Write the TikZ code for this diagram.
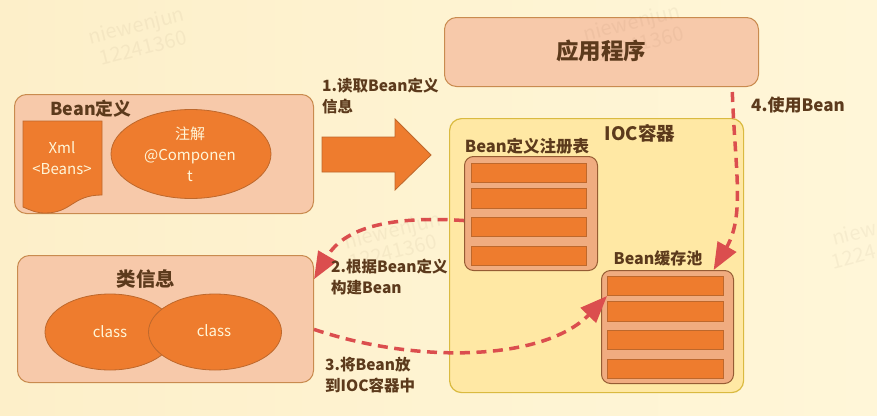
\documentclass[tikz,border=0pt]{standalone}
\usepackage[RGB]{xcolor}
\usepackage{fontspec}
\setmainfont{Noto Sans CJK SC}
\usetikzlibrary{arrows.meta,shapes.geometric}
\definecolor{PageL}{RGB}{253,239,201}
\definecolor{PageR}{RGB}{255,246,216}
\definecolor{BoxFill}{RGB}{247,201,170}
\definecolor{BoxLine}{RGB}{201,139,79}
\definecolor{Org}{RGB}{238,124,46}
\definecolor{OrgLine}{RGB}{190,104,44}
\definecolor{Ioc}{RGB}{255,232,164}
\definecolor{IocLine}{RGB}{218,186,64}
\definecolor{Stack}{RGB}{240,172,128}
\definecolor{StackLine}{RGB}{150,92,52}
\definecolor{Ink}{RGB}{92,58,28}
\definecolor{Dash}{RGB}{219,78,78}
\tikzset{
  panelbox/.style={draw=BoxLine,fill=BoxFill,line width=1pt,rounded corners=12pt,inner sep=0pt},
  orangeshape/.style={draw=OrgLine,fill=Org,line width=.8pt},
  barbox/.style={draw=OrgLine,fill=Org,line width=1pt,inner sep=0pt},
  stackbox/.style={draw=StackLine,fill=Stack,line width=1pt,rounded corners=9pt,inner sep=0pt},
  inktext/.style={text=Ink,font=\bfseries\fontsize{15.5}{20.5}\selectfont,inner sep=0pt},
  steptext/.style={inktext,align=left,anchor=north west},
  whitetext/.style={text=PageR,font=\fontsize{15}{21}\selectfont,align=center,inner sep=0pt},
  dasharrow/.style={draw=Dash,line width=3.5pt,dash pattern=on 10pt off 6.5pt,-{Triangle[length=27pt,width=21pt]}},
  marktext/.style={text=Ink,text opacity=.05,font=\fontsize{20}{24}\selectfont,rotate=14,inner sep=0pt}
}
\newcommand{\drawbars}[3]{
    \foreach \i/\y/\h in {1/0/19,2/25/20,3/54/19,4/83/19}{
      \node[barbox,anchor=north west,minimum width=#2 pt,minimum height=\h pt] (#1\i) at (#3) [yshift=-\y pt] {};
    }
}
\begin{document}
\begin{tikzpicture}[x=1pt,y=-1pt]
\useasboundingbox (0,0) rectangle (877,415);
\fill[left color=PageL,right color=PageR] (0,0) rectangle (877,415);
\node[panelbox,anchor=north west,minimum width=314pt,minimum height=69pt] (app) at (444,17) {};
\node[inktext,font=\bfseries\fontsize{22.5}{26}\selectfont] (apptitle) at (601,51) {应用程序};
\node[panelbox,anchor=north west,minimum width=299pt,minimum height=119pt] (beandef) at (14,94) {};
\node[inktext,font=\bfseries\fontsize{17.8}{22}\selectfont] (beandeftitle) at (91,109) {Bean定义};
\draw[orangeshape] (23,121)--++(79,0)--++(0,74) .. controls (72,195) and (72,213) .. (45,213) .. controls (36,213) and (30,210) .. (23,207)--cycle;
\node[whitetext] (xmltext) at (62,158) {Xml\\<Beans>};
\node[ellipse,orangeshape,minimum width=160pt,minimum height=89pt,inner sep=0pt] (annot) at (191,154) {};
\node[whitetext] (annottext) at (190,154) {注解\\@Componen\\t};
\draw[orangeshape] (322,137)--++(73,0)--++(0,-18)--++(36,36)--++(-36,35)--++(0,-18)--++(-73,0)--cycle;
\node[steptext] (readlabel) at (322,78) {1.读取Bean定义\\信息};
\node[panelbox,anchor=north west,minimum width=296pt,minimum height=127pt] (classbox) at (17,255) {};
\node[inktext,font=\bfseries\fontsize{19.5}{23}\selectfont] (classtitle) at (146,279) {类信息};
\node[ellipse,orangeshape,minimum width=130pt,minimum height=76pt,inner sep=0pt] (classa) at (110,332) {};
\node[ellipse,orangeshape,minimum width=133pt,minimum height=76pt,inner sep=0pt] (classb) at (215,332) {};
\node[whitetext] (classatext) at (110,332) {class};
\node[whitetext] (classbtext) at (214,331) {class};
\node[draw=IocLine,fill=Ioc,line width=1.2pt,rounded corners=12pt,anchor=north west,minimum width=294pt,minimum height=274pt,inner sep=0pt] (ioc) at (449,118) {};
\node[inktext,font=\bfseries\fontsize{18.5}{22}\selectfont] (ioctitle) at (640,133) {IOC容器};
\node[inktext,font=\bfseries\fontsize{16.5}{20}\selectfont] (regtitle) at (527,146) {Bean定义注册表};
\node[stackbox,anchor=north west,minimum width=133pt,minimum height=114pt] (regtable) at (464,156) {};
\coordinate (regtop) at (471,163);
\drawbars{regbar}{115}{regtop}
\node[inktext,font=\bfseries\fontsize{16}{20}\selectfont] (cachetitle) at (658,258) {Bean缓存池};
\node[stackbox,anchor=north west,minimum width=132pt,minimum height=113pt] (cache) at (601,270) {};
\coordinate (cachetop) at (607,276);
\drawbars{cachebar}{116}{cachetop}
\draw[dasharrow] (regtable.186) .. controls (395,216) and (345,226) .. (classbox.15.7);
\draw[dasharrow] (classbox.-4.8) .. controls (420,365) and (545,360) .. (cachebar1.south west);
\draw[dasharrow,shorten <=5pt] (app.-15.4) .. controls (735,170) and (745,215) .. (cache.51.5);
\node[steptext] (buildlabel) at (331,259) {2.根据Bean定义\\构建Bean};
\node[steptext] (putlabel) at (325,357) {3.将Bean放\\到IOC容器中};
\node[steptext,font=\bfseries\fontsize{17}{20}\selectfont] (uselabel) at (751,97) {4.使用Bean};
\node[marktext] (marka) at (137,27) {niewenjun};
\node[marktext] (markb) at (143,48) {12241360};
\node[marktext] (markc) at (632,24) {niewenjun};
\node[marktext] (markd) at (640,44) {12241360};
\node[marktext] (marke) at (393,232) {niewenjun};
\node[marktext] (markf) at (393,252) {12241360};
\node[marktext,anchor=west] (markg) at (832,238) {niew};
\node[marktext,anchor=west] (markh) at (832,262) {1224};
\end{tikzpicture}
\end{document}
